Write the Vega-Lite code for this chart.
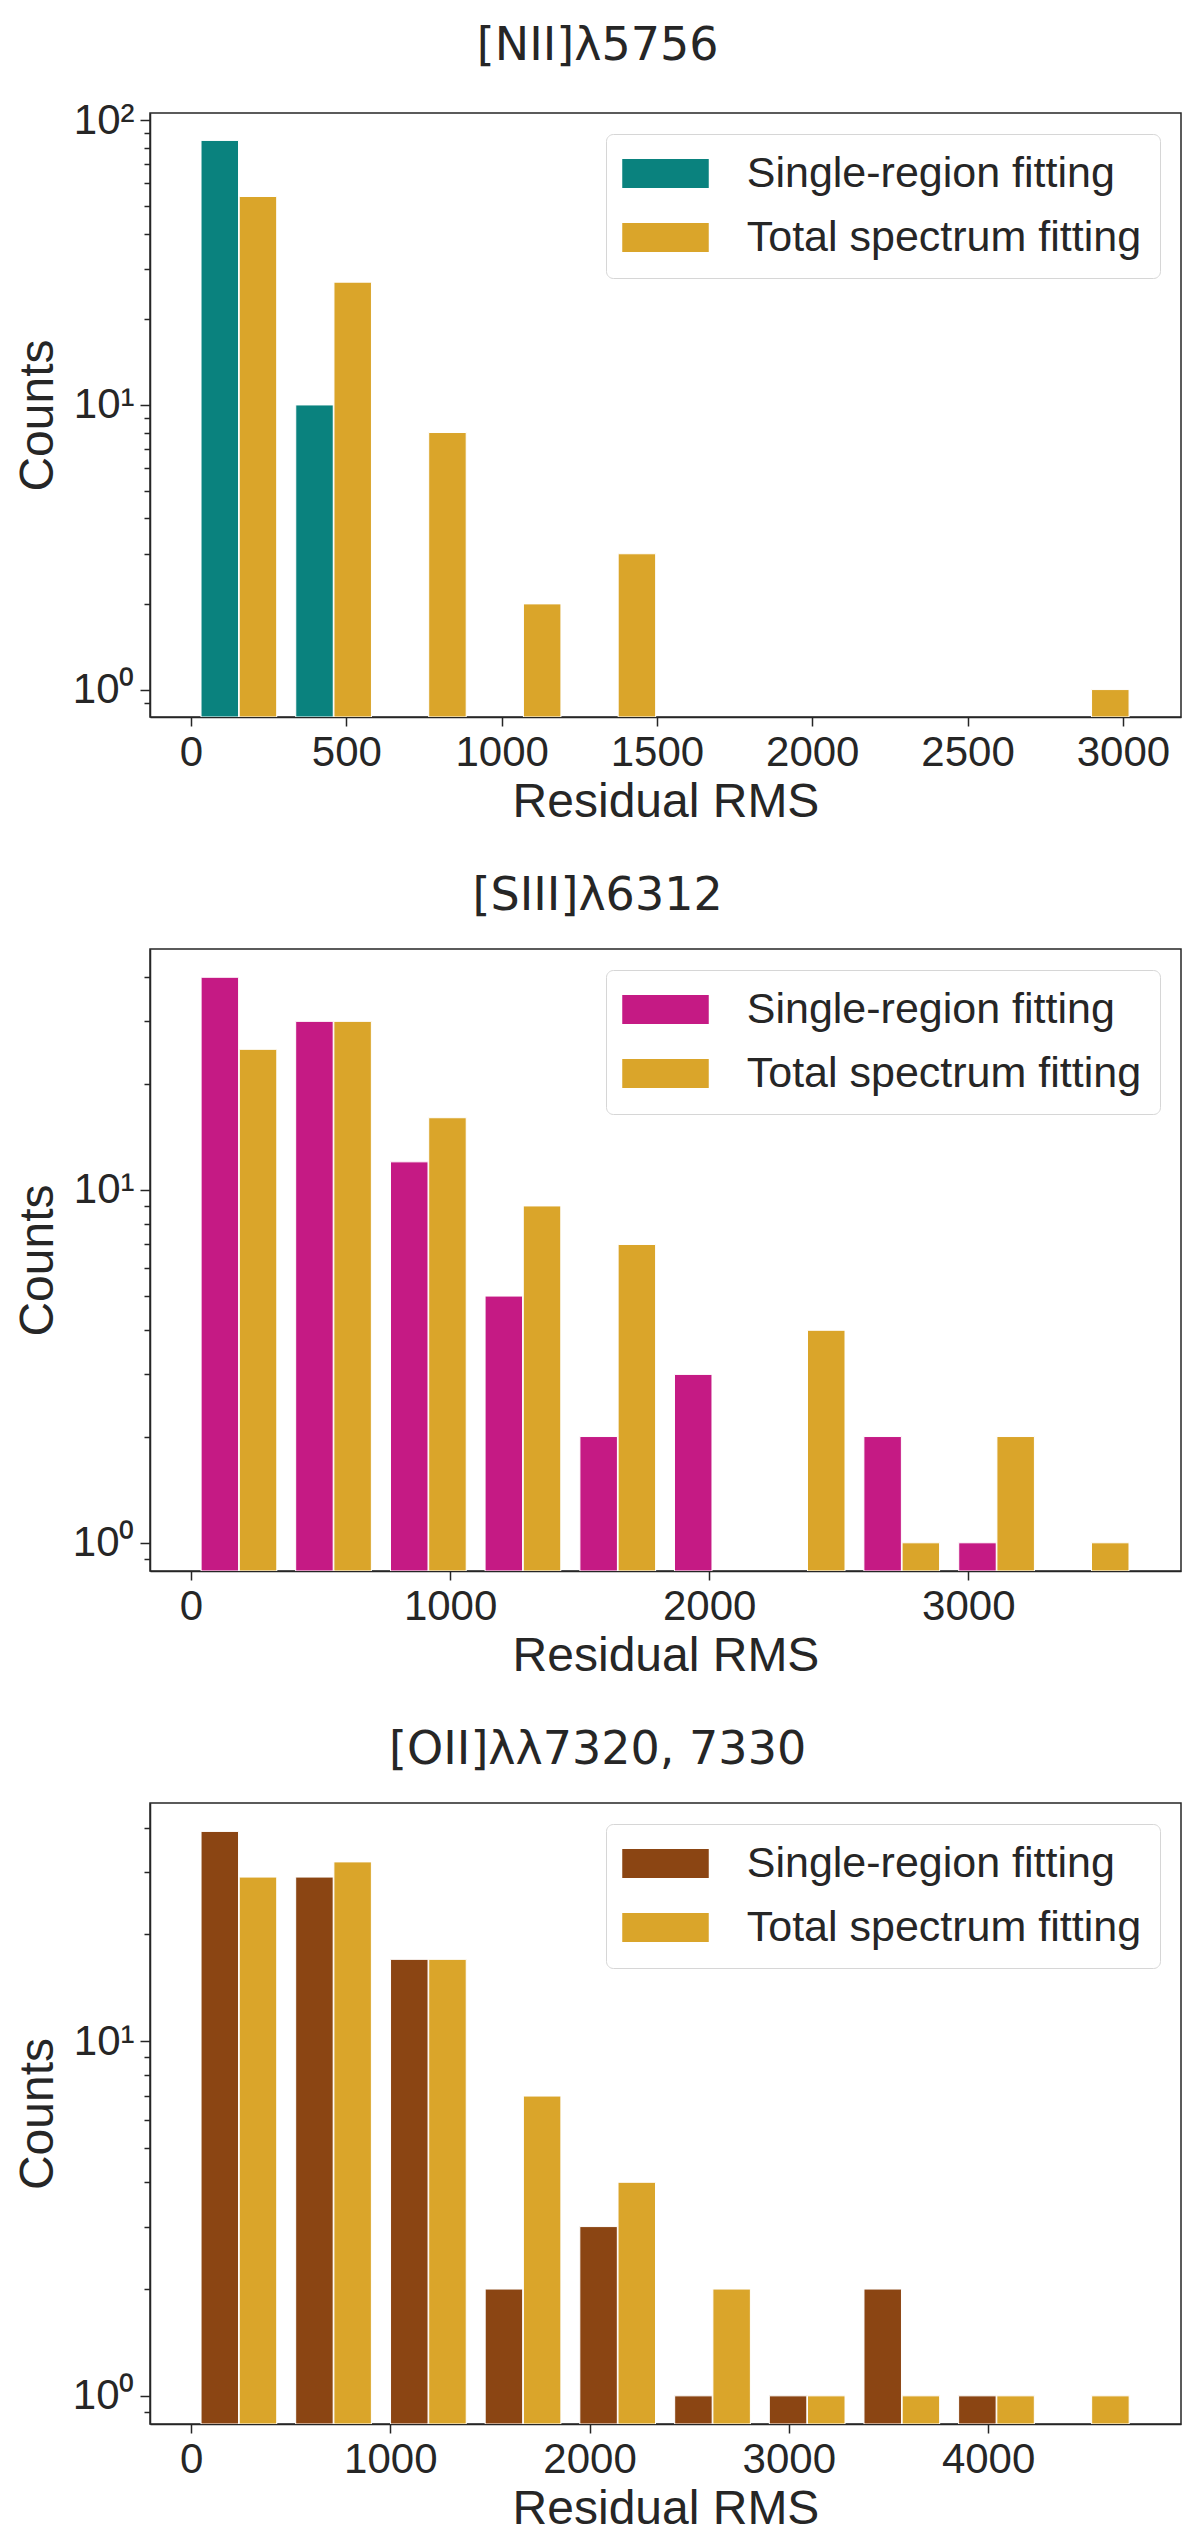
{
  "$schema": "https://vega.github.io/schema/vega-lite/v6.json",
  "background": "white",
  "padding": {"left": 13, "top": 22, "right": 0, "bottom": 0},
  "config": {
    "font": "Liberation Sans",
    "view": {"stroke": "#262626", "strokeWidth": 1.5},
    "axis": {
      "grid": false,
      "domainColor": "#262626",
      "domainWidth": 1.5,
      "tickColor": "#262626",
      "tickWidth": 1.5,
      "labelColor": "#262626",
      "titleColor": "#262626",
      "labelFont": "Liberation Sans",
      "titleFont": "Liberation Sans",
      "labelFontSize": 42,
      "titleFontSize": 48,
      "titleFontWeight": "normal"
    },
    "axisX": {"tickSize": 9, "labelPadding": 6, "titlePadding": 5, "format": "d", "labelFlush": false},
    "axisY": {"labelPadding": 6, "titlePadding": 10, "labelBaseline": "middle"},
    "title": {"font": "DejaVu Sans", "fontSize": 46, "fontWeight": "normal", "color": "#262626", "anchor": "middle", "frame": "bounds", "offset": 29},
    "legend": {
      "orient": "top-right",
      "offset": 21,
      "title": null,
      "labelFont": "Liberation Sans",
      "labelFontSize": 43,
      "labelColor": "#262626",
      "labelLimit": 0,
      "labelOffset": 59.75,
      "symbolType": "M-2.983,-1H2.983V1H-2.983Z",
      "symbolSize": 841,
      "symbolOffset": 20,
      "symbolStrokeWidth": 0,
      "symbolOpacity": 1,
      "padding": 18,
      "rowPadding": 20,
      "fillColor": "white",
      "strokeColor": "#d6d6d6",
      "cornerRadius": 7
    }
  },
  "data": {
    "values": [
      {"panel": "NII", "series": "Single-region fitting", "rms": 154, "count": 85},
      {"panel": "NII", "series": "Single-region fitting", "rms": 459, "count": 10},
      {"panel": "NII", "series": "Total spectrum fitting", "rms": 154, "count": 54},
      {"panel": "NII", "series": "Total spectrum fitting", "rms": 459, "count": 27},
      {"panel": "NII", "series": "Total spectrum fitting", "rms": 764, "count": 8},
      {"panel": "NII", "series": "Total spectrum fitting", "rms": 1069, "count": 2},
      {"panel": "NII", "series": "Total spectrum fitting", "rms": 1374, "count": 3},
      {"panel": "NII", "series": "Total spectrum fitting", "rms": 2898, "count": 1},

      {"panel": "SIII", "series": "Single-region fitting", "rms": 185, "count": 40},
      {"panel": "SIII", "series": "Single-region fitting", "rms": 550, "count": 30},
      {"panel": "SIII", "series": "Single-region fitting", "rms": 916, "count": 12},
      {"panel": "SIII", "series": "Single-region fitting", "rms": 1281, "count": 5},
      {"panel": "SIII", "series": "Single-region fitting", "rms": 1647, "count": 2},
      {"panel": "SIII", "series": "Single-region fitting", "rms": 2012, "count": 3},
      {"panel": "SIII", "series": "Single-region fitting", "rms": 2743, "count": 2},
      {"panel": "SIII", "series": "Single-region fitting", "rms": 3109, "count": 1},
      {"panel": "SIII", "series": "Total spectrum fitting", "rms": 185, "count": 25},
      {"panel": "SIII", "series": "Total spectrum fitting", "rms": 550, "count": 30},
      {"panel": "SIII", "series": "Total spectrum fitting", "rms": 916, "count": 16},
      {"panel": "SIII", "series": "Total spectrum fitting", "rms": 1281, "count": 9},
      {"panel": "SIII", "series": "Total spectrum fitting", "rms": 1647, "count": 7},
      {"panel": "SIII", "series": "Total spectrum fitting", "rms": 2378, "count": 4},
      {"panel": "SIII", "series": "Total spectrum fitting", "rms": 2743, "count": 1},
      {"panel": "SIII", "series": "Total spectrum fitting", "rms": 3109, "count": 2},
      {"panel": "SIII", "series": "Total spectrum fitting", "rms": 3474, "count": 1},

      {"panel": "OII", "series": "Single-region fitting", "rms": 240, "count": 39},
      {"panel": "OII", "series": "Single-region fitting", "rms": 715, "count": 29},
      {"panel": "OII", "series": "Single-region fitting", "rms": 1191, "count": 17},
      {"panel": "OII", "series": "Single-region fitting", "rms": 1666, "count": 2},
      {"panel": "OII", "series": "Single-region fitting", "rms": 2141, "count": 3},
      {"panel": "OII", "series": "Single-region fitting", "rms": 2617, "count": 1},
      {"panel": "OII", "series": "Single-region fitting", "rms": 3092, "count": 1},
      {"panel": "OII", "series": "Single-region fitting", "rms": 3567, "count": 2},
      {"panel": "OII", "series": "Single-region fitting", "rms": 4042, "count": 1},
      {"panel": "OII", "series": "Total spectrum fitting", "rms": 240, "count": 29},
      {"panel": "OII", "series": "Total spectrum fitting", "rms": 715, "count": 32},
      {"panel": "OII", "series": "Total spectrum fitting", "rms": 1191, "count": 17},
      {"panel": "OII", "series": "Total spectrum fitting", "rms": 1666, "count": 7},
      {"panel": "OII", "series": "Total spectrum fitting", "rms": 2141, "count": 4},
      {"panel": "OII", "series": "Total spectrum fitting", "rms": 2617, "count": 2},
      {"panel": "OII", "series": "Total spectrum fitting", "rms": 3092, "count": 1},
      {"panel": "OII", "series": "Total spectrum fitting", "rms": 3567, "count": 1},
      {"panel": "OII", "series": "Total spectrum fitting", "rms": 4042, "count": 1},
      {"panel": "OII", "series": "Total spectrum fitting", "rms": 4518, "count": 1}
    ]
  },
  "spacing": 45,
  "resolve": {"scale": {"x": "independent", "y": "independent", "color": "independent"}, "legend": {"color": "independent"}},
  "vconcat": [
    {
      "title": {"text": "[NII]λ5756"},
      "width": 1031,
      "height": 604,
      "transform": [{"filter": "datum.panel == 'NII'"}],
      "encoding": {
        "x": {"field": "rms", "type": "quantitative", "title": "Residual RMS",
          "scale": {"domain": [-116, 3171], "nice": false, "zero": false},
          "axis": {"values": [0, 500, 1000, 1500, 2000, 2500, 3000]}},
        "y": {"field": "count", "type": "quantitative", "title": "Counts",
          "scale": {"type": "log", "domain": [0.801, 106.1], "nice": false},
          "axis": {"values": [0.9, 1, 2, 3, 4, 5, 6, 7, 8, 9, 10, 20, 30, 40, 50, 60, 70, 80, 90, 100],
            "labelExpr": "datum.value == 1 ? '10⁰' : datum.value == 10 ? '10¹' : datum.value == 100 ? '10²' : ''",
            "tickSize": {"condition": {"test": "datum.value == 1 || datum.value == 10 || datum.value == 100", "value": 10}, "value": 6}}},
        "y2": {"datum": 0.801},
        "color": {"field": "series", "type": "nominal",
          "scale": {"domain": ["Single-region fitting", "Total spectrum fitting"], "range": ["#0a827e", "#daa52a"]}}
      },
      "layer": [
        {"transform": [{"filter": "datum.series == 'Single-region fitting'"}],
          "mark": {"type": "bar", "size": 37.5, "xOffset": -19.1, "stroke": "white", "strokeWidth": 1, "clip": true}},
        {"transform": [{"filter": "datum.series == 'Total spectrum fitting'"}],
          "mark": {"type": "bar", "size": 37.5, "xOffset": 19.1, "stroke": "white", "strokeWidth": 1, "clip": true}}
      ]
    },
    {
      "title": {"text": "[SIII]λ6312"},
      "width": 1031,
      "height": 622,
      "transform": [{"filter": "datum.panel == 'SIII'"}],
      "encoding": {
        "x": {"field": "rms", "type": "quantitative", "title": "Residual RMS",
          "scale": {"domain": [-139, 3801.5], "nice": false, "zero": false},
          "axis": {"values": [0, 1000, 2000, 3000]}},
        "y": {"field": "count", "type": "quantitative", "title": "Counts",
          "scale": {"type": "log", "domain": [0.832, 48.1], "nice": false},
          "axis": {"values": [0.9, 1, 2, 3, 4, 5, 6, 7, 8, 9, 10, 20, 30, 40],
            "labelExpr": "datum.value == 1 ? '10⁰' : datum.value == 10 ? '10¹' : ''",
            "tickSize": {"condition": {"test": "datum.value == 1 || datum.value == 10", "value": 10}, "value": 6}}},
        "y2": {"datum": 0.832},
        "color": {"field": "series", "type": "nominal",
          "scale": {"domain": ["Single-region fitting", "Total spectrum fitting"], "range": ["#c51a84", "#daa52a"]}}
      },
      "layer": [
        {"transform": [{"filter": "datum.series == 'Single-region fitting'"}],
          "mark": {"type": "bar", "size": 37.5, "xOffset": -19.1, "stroke": "white", "strokeWidth": 1, "clip": true}},
        {"transform": [{"filter": "datum.series == 'Total spectrum fitting'"}],
          "mark": {"type": "bar", "size": 37.5, "xOffset": 19.1, "stroke": "white", "strokeWidth": 1, "clip": true}}
      ]
    },
    {
      "title": {"text": "[OII]λλ7320, 7330"},
      "width": 1031,
      "height": 621,
      "transform": [{"filter": "datum.panel == 'OII'"}],
      "encoding": {
        "x": {"field": "rms", "type": "quantitative", "title": "Residual RMS",
          "scale": {"domain": [-181, 4943], "nice": false, "zero": false},
          "axis": {"values": [0, 1000, 2000, 3000, 4000]}},
        "y": {"field": "count", "type": "quantitative", "title": "Counts",
          "scale": {"type": "log", "domain": [0.833, 46.9], "nice": false},
          "axis": {"values": [0.9, 1, 2, 3, 4, 5, 6, 7, 8, 9, 10, 20, 30, 40],
            "labelExpr": "datum.value == 1 ? '10⁰' : datum.value == 10 ? '10¹' : ''",
            "tickSize": {"condition": {"test": "datum.value == 1 || datum.value == 10", "value": 10}, "value": 6}}},
        "y2": {"datum": 0.833},
        "color": {"field": "series", "type": "nominal",
          "scale": {"domain": ["Single-region fitting", "Total spectrum fitting"], "range": ["#8b4513", "#daa52a"]}}
      },
      "layer": [
        {"transform": [{"filter": "datum.series == 'Single-region fitting'"}],
          "mark": {"type": "bar", "size": 37.5, "xOffset": -19.1, "stroke": "white", "strokeWidth": 1, "clip": true}},
        {"transform": [{"filter": "datum.series == 'Total spectrum fitting'"}],
          "mark": {"type": "bar", "size": 37.5, "xOffset": 19.1, "stroke": "white", "strokeWidth": 1, "clip": true}}
      ]
    }
  ]
}
